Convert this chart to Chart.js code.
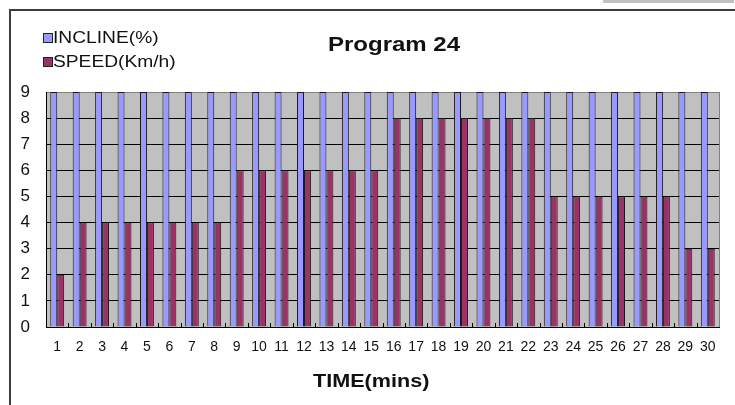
<!DOCTYPE html>
<html>
<head>
<meta charset="utf-8">
<script src="https://cdn.jsdelivr.net/npm/chart.js@4.4.1/dist/chart.umd.min.js"></script>
<style>
    html, body { margin: 0; padding: 0; background: #fff; }
    #wrap { position: relative; width: 735px; height: 405px; overflow: hidden; font-family: "Liberation Sans", Arial, sans-serif; color: #111; }
    #frame { position: absolute; left: 9px; top: 9px; right: -10px; bottom: -10px; border-top: 2px solid #3c3c3c; border-left: 2px solid #3c3c3c; }
    #tab { position: absolute; left: 603px; top: 0; width: 131px; height: 3px; background: #c0c0c0; }
    canvas { position: absolute; left: 0; top: 0; }
    .stretch { display: inline-block; transform: scaleX(1.2); transform-origin: left center; white-space: nowrap; }
    #title { position: absolute; left: 328px; top: 32px; font-weight: bold; font-size: 20px; line-height: 24px; }
    #axisTitle { position: absolute; left: 313px; top: 370px; font-weight: bold; font-size: 18px; line-height: 22px; }
    #legend { position: absolute; left: 43px; top: 28px; }
    .row { position: relative; height: 24px; }
    .box { position: absolute; left: 0; top: 5px; width: 8px; height: 8px; border: 1px solid #222; }
    .lbl { position: absolute; left: 10px; top: 0; font-size: 16px; line-height: 20px; }
</style>
</head>
<body>
<div id="wrap">
    <div id="tab"></div>
    <div id="frame"></div>
    <canvas id="programChart" width="735" height="405"></canvas>
    <div id="title"><span class="stretch">Program 24</span></div>
    <div id="legend"></div>
    <div id="axisTitle"><span class="stretch">TIME(mins)</span></div>
</div>
<script>
// Datos del programa
const timeLabels = ['1', '2', '3', '4', '5', '6', '7', '8', '9', '10',
    '11', '12', '13', '14', '15', '16', '17', '18', '19', '20',
    '21', '22', '23', '24', '25', '26', '27', '28', '29', '30'];
const inclineValues = [9, 9, 9, 9, 9, 9, 9, 9, 9, 9,
    9, 9, 9, 9, 9, 9, 9, 9, 9, 9,
    9, 9, 9, 9, 9, 9, 9, 9, 9, 9];
const speedValues = [2, 4, 4, 4, 4, 4, 4, 4, 6, 6,
    6, 6, 6, 6, 6, 8, 8, 8, 8, 8,
    8, 8, 5, 5, 5, 5, 5, 5, 3, 3];
const yTicks = [0, 1, 2, 3, 4, 5, 6, 7, 8, 9];

// fondo gris del area y borde superior/derecho
const plotFrame = {
    id: 'plotFrame',
    beforeDraw(chart) {
        const { ctx, chartArea: a } = chart;
        ctx.save();
        ctx.fillStyle = '#c0c0c0';
        ctx.fillRect(a.left, a.top, a.right - a.left, a.bottom - a.top);
        ctx.restore();
    },
    beforeDatasetsDraw(chart) {
        const { ctx, chartArea: a, scales } = chart;
        ctx.save();
        ctx.strokeStyle = '#808080';
        ctx.lineWidth = 1;
        ctx.beginPath();
        ctx.moveTo(Math.round(a.right) + 0.5, a.top);
        ctx.lineTo(Math.round(a.right) + 0.5, a.bottom);
        ctx.stroke();
        // marcas internas entre categorias
        ctx.strokeStyle = '#000';
        ctx.beginPath();
        for (let i = 0; i < timeLabels.length - 1; i++) {
            const x = Math.round(scales.x.getPixelForValue(i + 0.5)) + 0.5;
            ctx.moveTo(x, a.bottom);
            ctx.lineTo(x, a.bottom - 4);
        }
        ctx.stroke();
        ctx.restore();
    }
};

const chart = new Chart(document.getElementById('programChart'), {
    type: 'bar',
    data: {
        labels: timeLabels,
        datasets: [{
            label: 'INCLINE(%)',
            data: inclineValues,
            backgroundColor: '#9999ff',
            borderColor: '#1a1a1a',
            borderWidth: 1,
            borderSkipped: 'bottom'
        }, {
            label: 'SPEED(Km/h)',
            data: speedValues,
            backgroundColor: '#993366',
            borderColor: '#1a1a1a',
            borderWidth: 1,
            borderSkipped: 'bottom'
        }]
    },
    options: {
        responsive: false,
        animation: false,
        categoryPercentage: 0.62,
        barPercentage: 1.0,
        layout: { padding: { top: 92, right: 16, left: 0, bottom: 0 } },
        plugins: {
            legend: { display: false },
            title: { display: false },
            tooltip: { enabled: false }
        },
        scales: {
            x: {
                grid: { display: false },
                border: { display: true, color: '#000', width: 1 },
                ticks: {
                    autoSkip: false,
                    maxRotation: 0,
                    padding: 4,
                    color: '#111',
                    font: { family: '"Liberation Sans", Arial, sans-serif', size: 14 }
                },
                afterFit(scale) { scale.height = 78; }
            },
            y: {
                min: 0,
                max: 9,
                afterBuildTicks(scale) { scale.ticks = yTicks.map(v => ({ value: v })); },
                grid: {
                    drawTicks: false,
                    color: c => (c.tick && c.tick.value === 9) ? '#808080' : '#000',
                    lineWidth: 1
                },
                border: { display: true, color: '#000', width: 1 },
                ticks: {
                    padding: 16,
                    color: '#111',
                    font: { family: '"Liberation Sans", Arial, sans-serif', size: 17 }
                },
                afterFit(scale) { scale.width = 46; }
            }
        }
    },
    plugins: [plotFrame]
});

// Leyenda HTML
const legendEl = document.getElementById('legend');
chart.data.datasets.forEach(ds => {
    const row = document.createElement('div');
    row.className = 'row';
    row.innerHTML = '<div class="box" style="background:' + ds.backgroundColor + '"></div>' +
        '<div class="lbl"><span class="stretch">' + ds.label + '</span></div>';
    legendEl.appendChild(row);
});
</script>
</body>
</html>
